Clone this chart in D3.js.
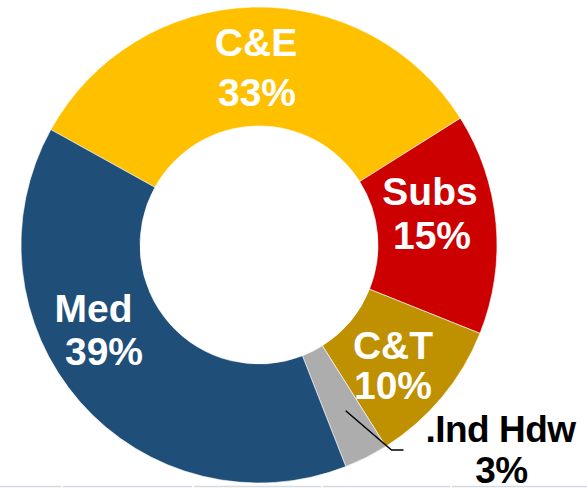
<!DOCTYPE html>
<html>
<head>
<meta charset="utf-8">
<script src="https://cdn.jsdelivr.net/npm/d3@7"></script>
<style>
  html, body { margin: 0; padding: 0; background: #fff; }
  svg { display: block; }
  text { font-family: "Liberation Sans", Arial, sans-serif; font-weight: bold; }
</style>
</head>
<body>
<svg id="chart" width="587" height="488"></svg>
<script>
// ---- data ----
const categories = ["C&E", "Subs", "C&T", ".Ind Hdw", "Med"];
const values = [33, 15, 10, 3, 39];
const valueLabels = ["33%", "15%", "10%", "3%", "39%"];
const colors = ["#FFC000", "#CC0000", "#BF9000", "#ADADAD", "#1F4E79"];
const textColors = ["#fff", "#fff", "#fff", "#000", "#fff"];

// ---- layout (not data) ----
const W = 587, H = 488;
const cx = 259, cy = 245, rOuter = 238, rInner = 119;
const startDeg = -61;
// label anchor positions (x, baseline of first line, baseline of second line)
const labelLayout = [
  { x1: 256, y1: 55.5, x2: 257, y2: 105.5, fs: 39, ls: 0 },
  { x1: 430, y1: 205, x2: 432, y2: 249, fs: 39, ls: 0 },
  { x1: 393, y1: 359, x2: 393, y2: 399, fs: 39, ls: 0 },
  { x1: 500.5, y1: 442, x2: 501.5, y2: 482.5, fs: 37, ls: -0.5 },
  { x1: 93.6, y1: 322, x2: 104, y2: 365, fs: 39, ls: 0 }
];

const svg = d3.select("#chart");

const pie = d3.pie().sort(null).value(d => d)
  .startAngle(startDeg * Math.PI / 180)
  .endAngle((startDeg + 360) * Math.PI / 180);
const arcs = pie(values);
const arc = d3.arc().innerRadius(rInner).outerRadius(rOuter);

const g = svg.append("g").attr("transform", `translate(${cx},${cy})`);
g.selectAll("path.slice").data(arcs).enter().append("path")
  .attr("class", "slice")
  .attr("d", arc)
  .attr("fill", (d, i) => colors[i])
  .attr("stroke", "#fff")
  .attr("stroke-width", 0.6);

// leader line for the small slice
const small = arcs[3];
const midA = (small.startAngle + small.endAngle) / 2;
const rr = d3.scaleLinear().domain([0, 1]).range([rInner, rOuter]);
const p0 = [cx + Math.sin(midA) * rr(0.56), cy - Math.cos(midA) * rr(0.56)];
svg.append("polyline")
  .attr("points", [[p0[0] + 3, p0[1]], [391.5, 450], [403.5, 450]].map(p => p.join(",")).join(" "))
  .attr("fill", "none")
  .attr("stroke", "#000")
  .attr("stroke-width", 1.5);

// labels
const lab = svg.append("g");
categories.forEach((c, i) => {
  const L = labelLayout[i];
  lab.append("text").attr("x", L.x1).attr("y", L.y1)
    .attr("font-size", L.fs).attr("letter-spacing", L.ls)
    .attr("text-anchor", "middle").attr("fill", textColors[i]).text(c);
  lab.append("text").attr("x", L.x2).attr("y", L.y2)
    .attr("font-size", L.fs).attr("letter-spacing", L.ls)
    .attr("text-anchor", "middle").attr("fill", textColors[i]).text(valueLabels[i]);
});

// faint bottom border segments
const segs = [[0, 61], [63, 192], [194, 321], [323, 450], [452, 587]];
svg.append("g").selectAll("line").data(segs).enter().append("line")
  .attr("x1", d => d[0]).attr("x2", d => d[1])
  .attr("y1", 486.5).attr("y2", 486.5)
  .attr("stroke", "#D3DAE2").attr("stroke-width", 1.5);
</script>
</body>
</html>
